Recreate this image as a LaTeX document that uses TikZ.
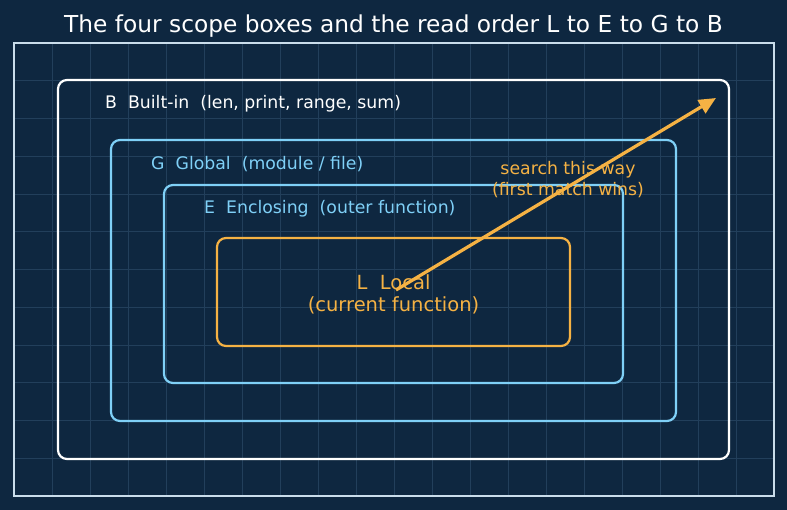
\documentclass[tikz,border=0pt]{standalone}
\usepackage{fontspec}
\setmainfont{DejaVu Sans}
\usetikzlibrary{arrows.meta, positioning}

\definecolor{bgnavy}{HTML}{0E2740}
\definecolor{gridline}{HTML}{223F5B}
\definecolor{framecol}{HTML}{C9DDEB}
\definecolor{skyblue}{HTML}{7FD0F7}
\definecolor{amber}{HTML}{F5B244}

\tikzset{
  scopebox/.style={rectangle, rounded corners=9pt, line width=2.2pt, inner sep=0pt},
  scopelabel/.style={anchor=west, font=\fontsize{17.3}{20}\selectfont, inner sep=0pt},
}

\begin{document}
\begin{tikzpicture}[x=1pt, y=-1pt]
					\fill[bgnavy] (0,0) rectangle (787,510);
					\useasboundingbox (0,0) rectangle (787,510);

					% faint grid inside the frame
					\foreach \i in {1,...,19} {
						\draw[gridline, line width=0.5pt] (14+38*\i,43) -- (14+38*\i,496);
					}
					\foreach \j in {1,...,11} {
						\draw[gridline, line width=0.5pt] (14,43+37.75*\j) -- (774,43+37.75*\j);
					}
					\draw[framecol, line width=1.4pt] (14,43) rectangle (774,496);

					\node[font=\fontsize{23.3}{26}\selectfont, text=white] (title) at (393.5,26) {The four scope boxes and the read order L to E to G to B};

					\node[scopebox, draw=white, minimum width=671pt, minimum height=379pt] (bbox) at (393.5,269.5) {};
					\node[scopebox, draw=skyblue, minimum width=565pt, minimum height=281pt] (gbox) at (393.5,280.5) {};
					\node[scopebox, draw=skyblue, minimum width=459pt, minimum height=198pt] (ebox) at (393.5,284) {};
					\node[scopebox, draw=amber, minimum width=353pt, minimum height=108pt] (lbox) at (393.5,292) {};

					\node[scopelabel, text=white] (blabel) at (105,104) {B\ \ Built-in\ \ (len, print, range, sum)};
					\node[scopelabel, text=skyblue] (glabel) at (151,164) {G\ \ Global\ \ (module / file)};
					\node[scopelabel, text=skyblue] (elabel) at (204,209) {E\ \ Enclosing\ \ (outer function)};
					\node[text=amber, align=center, font=\fontsize{19.5}{22}\selectfont] (llabel) at (393.5,294) {L\ \ Local\\(current function)};

					\node[text=amber, align=center, font=\fontsize{17.3}{21}\selectfont] (hint) at (568,180) {search this way\\(first match wins)};

					\coordinate (from) at (396,290);
					\coordinate (to) at (716,98);
					\draw[amber, line width=3.2pt, -{Triangle[length=17pt, width=15pt]}] (from) -- (to);
				\end{tikzpicture}
\end{document}
